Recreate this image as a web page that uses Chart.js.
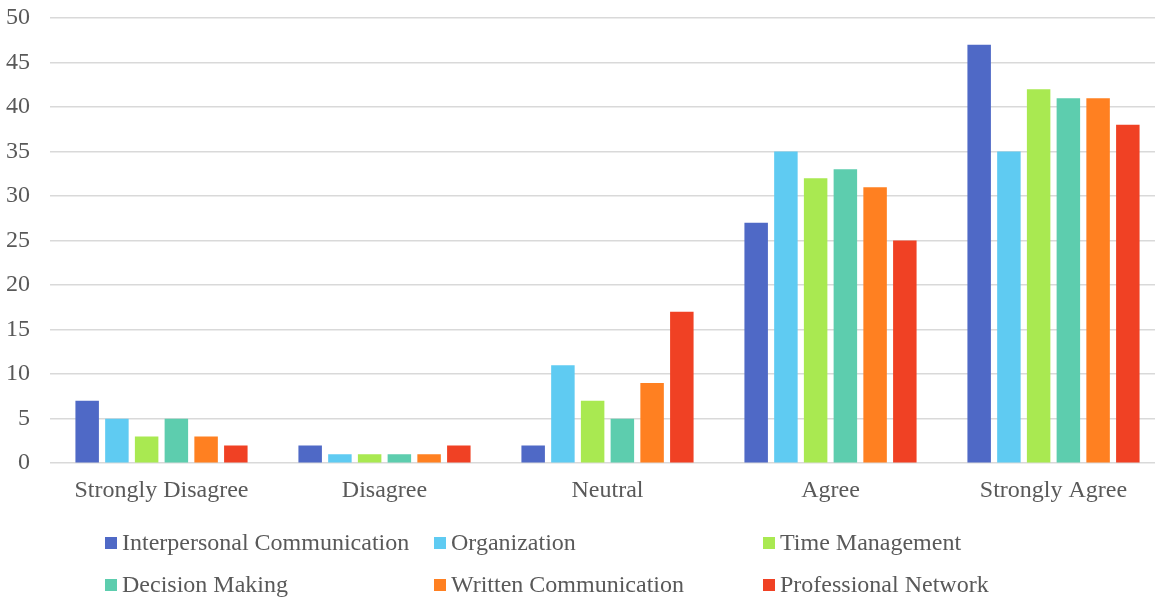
<!DOCTYPE html>
<html>
<head>
<meta charset="utf-8">
<script src="https://cdn.jsdelivr.net/npm/chart.js@4/dist/chart.umd.min.js"></script>
<style>
  html, body { margin: 0; padding: 0; background: #ffffff; overflow: hidden; }
  #wrap { width: 1155px; height: 600px; overflow: hidden; }
  #c { display: block; }
</style>
</head>
<body>
<div id="wrap"><canvas id="c" width="1165" height="600"></canvas></div>
<script>
const categories = ['Strongly Disagree', 'Disagree', 'Neutral', 'Agree', 'Strongly Agree'];
const seriesNames = ['Interpersonal Communication', 'Organization', 'Time Management',
                     'Decision Making', 'Written Communication', 'Professional Network'];
const interpersonal = [7, 2, 2, 27, 47];
const organization  = [5, 1, 11, 35, 35];
const timeMgmt      = [3, 1, 7, 32, 42];
const decision      = [5, 1, 5, 33, 41];
const written       = [3, 1, 9, 31, 41];
const network       = [2, 2, 17, 25, 38];
const yTicks = [0, 5, 10, 15, 20, 25, 30, 35, 40, 45, 50];

const seriesValues = [interpersonal, organization, timeMgmt, decision, written, network];
const colors = ['#4F69C6', '#5FCBF2', '#A9E951', '#5DCDAE', '#FF8021', '#F04124'];

const FONT = "'Liberation Serif', 'Times New Roman', serif";
const FONT_SIZE = 24;
const TEXT = '#595959';

// Legend in a fixed three-column grid below the plot
const gridLegend = {
  id: 'gridLegend',
  afterDraw(chart) {
    const ctx = chart.ctx;
    const colX = [105, 434, 763];
    const rowY = [543, 585];
    ctx.save();
    ctx.font = FONT_SIZE + 'px ' + FONT;
    ctx.textBaseline = 'middle';
    ctx.textAlign = 'left';
    chart.data.datasets.forEach((ds, i) => {
      const x = colX[i % 3];
      const y = rowY[Math.floor(i / 3)];
      ctx.fillStyle = ds.backgroundColor;
      ctx.fillRect(x, y - 6, 12, 12);
      ctx.fillStyle = TEXT;
      ctx.fillText(ds.label, x + 17, y + 1);
    });
    ctx.restore();
  }
};

function build() {
  new Chart(document.getElementById('c'), {
    type: 'bar',
    data: {
      labels: categories,
      datasets: seriesNames.map((name, i) => ({
        label: name,
        data: seriesValues[i],
        backgroundColor: colors[i],
        borderWidth: 0,
        barPercentage: 0.79,
        categoryPercentage: 0.8
      }))
    },
    options: {
      responsive: false,
      animation: false,
      layout: { padding: { top: 0, right: 0, bottom: 82, left: 0 } },
      plugins: {
        legend: { display: false },
        tooltip: { enabled: false }
      },
      scales: {
        x: {
          grid: { display: false, drawTicks: false },
          border: { display: false },
          ticks: { color: TEXT, font: { family: FONT, size: FONT_SIZE, lineHeight: 1.2 }, padding: 13, maxRotation: 0 }
        },
        y: {
          min: 0, max: 50,
          afterBuildTicks(axis) { axis.ticks = yTicks.map(v => ({ value: v })); },
          grid: { color: '#D9D9D9', lineWidth: 1.5, drawTicks: true, tickLength: 14, tickColor: 'rgba(0,0,0,0)' },
          border: { display: false },
          ticks: { color: TEXT, font: { family: FONT, size: FONT_SIZE, lineHeight: 1.0 }, padding: 6 }
        }
      }
    },
    plugins: [gridLegend]
  });
}

const fontReady = document.fonts && document.fonts.load
  ? document.fonts.load(FONT_SIZE + "px 'Liberation Serif'").catch(() => {})
  : Promise.resolve();
fontReady.then(build);
</script>
</body>
</html>
